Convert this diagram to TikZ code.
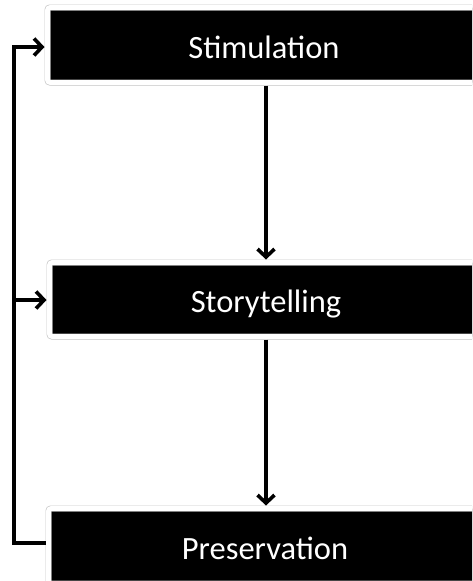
\documentclass[tikz,border=0pt]{standalone}
\usepackage{fontspec}
\setmainfont{Carlito}
\usetikzlibrary{arrows.meta,shadows}

\tikzset{
  stagebox/.style={
    fill=black, draw=black!22, line width=0.7pt,
    double=white, double distance=4.6pt,
    rounded corners=2.5pt, outer sep=3pt,
    drop shadow={shadow xshift=1.2pt, shadow yshift=-2.5pt, opacity=0.28},
    text=white, font=\fontsize{32.5}{38}\selectfont,
    text height=26pt, text depth=0pt, inner sep=0pt,
    minimum width=433pt, minimum height=75pt
  },
  flow/.style={
    line width=3.6pt, draw=black, line join=miter,
    -{Straight Barb[length=8pt, width=17pt, line width=3.6pt]}
  }
}

\begin{document}
\begin{tikzpicture}[x=1pt, y=-1pt]
  \useasboundingbox (0,0) rectangle (472,581);
  \clip (0,0) rectangle (472,581);
  \fill[white] (0,0) rectangle (472,581);

  % the three stages
  \node[stagebox] (s1) at (264,45) {Stimulation};
  \node[stagebox, minimum height=74pt] (s2) at (266,299.5) {Storytelling};
  \node[stagebox] (s3) at (265,546) {Preservation};

  % guide coordinates
  \coordinate (vx) at (266,0);
  \coordinate (lb) at (14,543);
  \coordinate (lm) at (14,300);
  \coordinate (lt) at (14,47);

  % forward flow
  \draw[flow] (s1.south -| vx) -- (s2.north -| vx);
  \draw[flow] (s2.south -| vx) -- (s3.north -| vx);

  % feedback loop on the left
  \draw[flow] (s3.west |- lb) -- (lb) -- (lt) -- (s1.west |- lt);
  \draw[flow] (lm) -- (s2.west |- lm);
\end{tikzpicture}
\end{document}
